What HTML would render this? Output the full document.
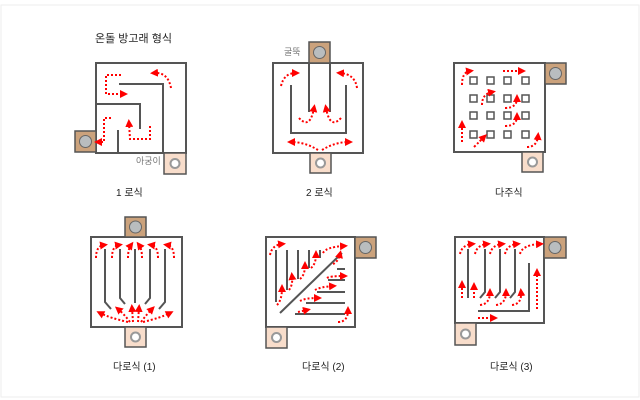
<!DOCTYPE html>
<html><head><meta charset="utf-8"><style>
html,body{margin:0;padding:0;background:#fff;}
svg{display:block}
text{font-family:"Liberation Sans","Noto Sans CJK KR",sans-serif;fill:#222;font-size:10px}
.w{stroke:#555;stroke-width:2;fill:none}
.o{stroke:#555;stroke-width:2;fill:#fff}
.a{stroke:#f00;stroke-width:2;stroke-dasharray:2 2;fill:none;marker-end:url(#m)}
.ch{fill:#cba27c;stroke:#555;stroke-width:1.5}
.fb{fill:#f8ddcb;stroke:#555;stroke-width:1.5}
.cc{fill:#b9bdbf;stroke:#666;stroke-width:1}
.fc{fill:#fff;stroke:#999;stroke-width:2}
.sq{fill:#fff;stroke:#555;stroke-width:1.5}
</style></head><body>
<svg width="640" height="400" viewBox="0 0 640 400" xmlns="http://www.w3.org/2000/svg">
<defs>
<marker id="m" viewBox="0 0 10 10" refX="5" refY="5" markerWidth="4" markerHeight="4" orient="auto"><path d="M0,0 L10,5 L0,10 z" fill="#f00"/></marker>
</defs>
<rect x="1" y="5" width="638" height="392" fill="none" stroke="#eee" stroke-width="1"/>
<text x="95" y="42" style="font-size:11px">온돌 방고래 형식</text>

<!-- Diagram 1 -->
<rect class="o" x="96" y="63" width="90" height="90"/>
<rect class="ch" x="75" y="131" width="21" height="21"/><circle class="cc" cx="85.5" cy="141.5" r="6"/>
<rect class="fb" x="164" y="153" width="22" height="21"/><circle class="fc" cx="175" cy="163.5" r="4.5"/>
<polyline class="w" points="119,84 163,84 163,153"/>
<polyline class="w" points="96,104 140,104 140,129"/>
<line class="w" x1="118" y1="130" x2="118" y2="153"/>
<path class="a" d="M121,75 L106,75 L106,94 L124,94"/>
<path class="a" d="M171,88 Q168,72 154,73"/>
<path class="a" d="M111,118 L104,118 L104,142 L98,142"/>
<path class="a" d="M150,126 L150,139 L130,139 L129,123"/>
<text x="136" y="164" style="font-size:9px;fill:#777">아궁이</text>
<text x="116" y="196">1 로식</text>

<!-- Diagram 2 -->
<rect class="o" x="273" y="63" width="90" height="90"/>
<rect class="ch" x="309" y="42" width="21" height="21"/><circle class="cc" cx="319.5" cy="52.5" r="6"/>
<rect class="fb" x="310" y="153" width="21" height="20"/><circle class="fc" cx="320.5" cy="163" r="4.5"/>
<polyline class="w" points="291,85 291,133 346,133 346,85"/>
<line class="w" x1="309" y1="63" x2="309" y2="112"/>
<line class="w" x1="330" y1="63" x2="330" y2="112"/>
<path class="a" d="M281,86 Q284,73 296,73"/>
<path class="a" d="M357,88 Q355,74 340,73"/>
<path class="a" d="M299,118 Q310,130 314,108"/>
<path class="a" d="M341,118 Q330,130 326,108"/>
<path class="a" d="M318,150 Q305,142 291,142"/>
<path class="a" d="M322,150 Q335,142 349,142"/>
<text x="284" y="55" style="font-size:9px;fill:#777">굴뚝</text>
<text x="306" y="196">2 로식</text>

<!-- Diagram 3 -->
<rect class="o" x="454" y="63" width="91" height="89"/>
<rect class="ch" x="545" y="63" width="21" height="21"/><circle class="cc" cx="555.5" cy="73.5" r="6"/>
<rect class="fb" x="522" y="152" width="21" height="20"/><circle class="fc" cx="532.5" cy="162" r="4.5"/>
<g>
<rect class="sq" x="470" y="77" width="7" height="7"/><rect class="sq" x="487" y="77" width="7" height="7"/><rect class="sq" x="504" y="77" width="7" height="7"/><rect class="sq" x="522" y="77" width="7" height="7"/>
<rect class="sq" x="470" y="95" width="7" height="7"/><rect class="sq" x="487" y="95" width="7" height="7"/><rect class="sq" x="504" y="95" width="7" height="7"/><rect class="sq" x="522" y="95" width="7" height="7"/>
<rect class="sq" x="470" y="112" width="7" height="7"/><rect class="sq" x="487" y="112" width="7" height="7"/><rect class="sq" x="504" y="112" width="7" height="7"/><rect class="sq" x="522" y="112" width="7" height="7"/>
<rect class="sq" x="470" y="131" width="7" height="7"/><rect class="sq" x="487" y="131" width="7" height="7"/><rect class="sq" x="504" y="131" width="7" height="7"/><rect class="sq" x="522" y="131" width="7" height="7"/>
</g>
<path class="a" d="M462,85 Q462,72 470,71"/>
<path class="a" d="M503,71 L522,71"/>
<path class="a" d="M482,105 Q482,94 492,92"/>
<path class="a" d="M505,108 Q517,108 517,98"/>
<path class="a" d="M505,126 Q517,126 517,116"/>
<path class="a" d="M462,142 L462,124"/>
<path class="a" d="M474,147 Q481,140 484,137"/>
<path class="a" d="M527,147 Q537,147 538,136"/>
<text x="495" y="196">다주식</text>

<!-- Diagram 4 -->
<rect class="o" x="91" y="237" width="91" height="90"/>
<rect class="ch" x="125" y="217" width="21" height="20"/><circle class="cc" cx="135.5" cy="227" r="6"/>
<rect class="fb" x="125" y="327" width="21" height="20"/><circle class="fc" cx="135.5" cy="337" r="4.5"/>
<polyline class="w" points="105,249 105,302 111,309"/>
<polyline class="w" points="120,249 120,298 125,304"/>
<line class="w" x1="135" y1="249" x2="135" y2="303"/>
<polyline class="w" points="150,249 150,298 145,304"/>
<polyline class="w" points="165,249 165,302 159,309"/>
<path class="a" d="M96,258 Q96,246 104,245"/>
<path class="a" d="M112,258 Q112,246 119,245"/>
<path class="a" d="M128,258 Q128,249 131,245"/>
<path class="a" d="M142,258 Q142,249 139,245"/>
<path class="a" d="M158,258 Q158,246 151,245"/>
<path class="a" d="M174,258 Q174,246 167,245"/>
<path class="a" d="M128,322 Q110,318 100,313"/>
<path class="a" d="M130,322 Q124,314 118,309"/>
<path class="a" d="M133,322 L132,308"/>
<path class="a" d="M138,322 L139,308"/>
<path class="a" d="M141,322 Q147,314 152,309"/>
<path class="a" d="M143,322 Q160,318 170,313"/>
<text x="113" y="370">다로식 (1)</text>

<!-- Diagram 5 -->
<rect class="o" x="266" y="237" width="89" height="90"/>
<rect class="ch" x="355" y="237" width="21" height="21"/><circle class="cc" cx="365.5" cy="247.5" r="6"/>
<rect class="fb" x="266" y="327" width="21" height="21"/><circle class="fc" cx="276.5" cy="337.5" r="4.5"/>
<line class="w" x1="280" y1="313" x2="342" y2="253"/>
<line class="w" x1="276" y1="250" x2="276" y2="302"/>
<line class="w" x1="287" y1="250" x2="287" y2="290"/>
<line class="w" x1="298" y1="250" x2="298" y2="279"/>
<line class="w" x1="309" y1="250" x2="309" y2="268"/>
<line class="w" x1="320" y1="250" x2="320" y2="258"/>
<line class="w" x1="337" y1="269" x2="345" y2="269"/>
<line class="w" x1="328" y1="280" x2="345" y2="280"/>
<line class="w" x1="317" y1="292" x2="345" y2="292"/>
<line class="w" x1="306" y1="303" x2="345" y2="303"/>
<line class="w" x1="295" y1="314" x2="345" y2="314"/>
<path class="a" d="M270,255 Q272,245 282,244"/>
<path class="a" d="M277,305 Q282,300 282,288"/>
<path class="a" d="M289,290 Q293,285 292,276"/>
<path class="a" d="M300,279 Q305,275 305,265"/>
<path class="a" d="M311,268 Q316,264 316,254"/>
<path class="a" d="M323,253 Q326,247 344,246"/>
<path class="a" d="M333,264 Q338,262 340,254"/>
<path class="a" d="M327,278 Q330,276 344,276"/>
<path class="a" d="M315,290 Q320,287 333,286"/>
<path class="a" d="M300,301 Q305,298 318,298"/>
<path class="a" d="M298,312 L307,310"/>
<path class="a" d="M338,322 Q348,322 348,310"/>
<text x="302" y="370">다로식 (2)</text>

<!-- Diagram 6 -->
<rect class="o" x="455" y="237" width="89" height="86"/>
<rect class="ch" x="544" y="237" width="22" height="21"/><circle class="cc" cx="555" cy="247.5" r="6"/>
<rect class="fb" x="455" y="323" width="21" height="22"/><circle class="fc" cx="465.5" cy="334" r="4.5"/>
<line class="w" x1="468" y1="249" x2="468" y2="298"/>
<polyline class="w" points="485,249 485,292 480,298"/>
<polyline class="w" points="500,249 500,292 495,298"/>
<polyline class="w" points="515,249 515,292 510,298"/>
<polyline class="w" points="478,311 529,311 529,263"/>
<path class="a" d="M460,254 Q462,245 472,244"/>
<path class="a" d="M475,254 Q477,245 487,244"/>
<path class="a" d="M490,254 Q492,245 502,244"/>
<path class="a" d="M505,254 Q507,245 517,244"/>
<path class="a" d="M520,254 Q522,245 540,244"/>
<path class="a" d="M462,298 L462,284"/>
<path class="a" d="M474,298 L474,286"/>
<path class="a" d="M480,305 Q490,304 490,292"/>
<path class="a" d="M496,305 Q506,304 506,292"/>
<path class="a" d="M512,305 Q522,304 521,292"/>
<path class="a" d="M537,309 L537,272"/>
<path class="a" d="M478,318 L494,318"/>
<text x="490" y="370">다로식 (3)</text>
</svg>
</body></html>
